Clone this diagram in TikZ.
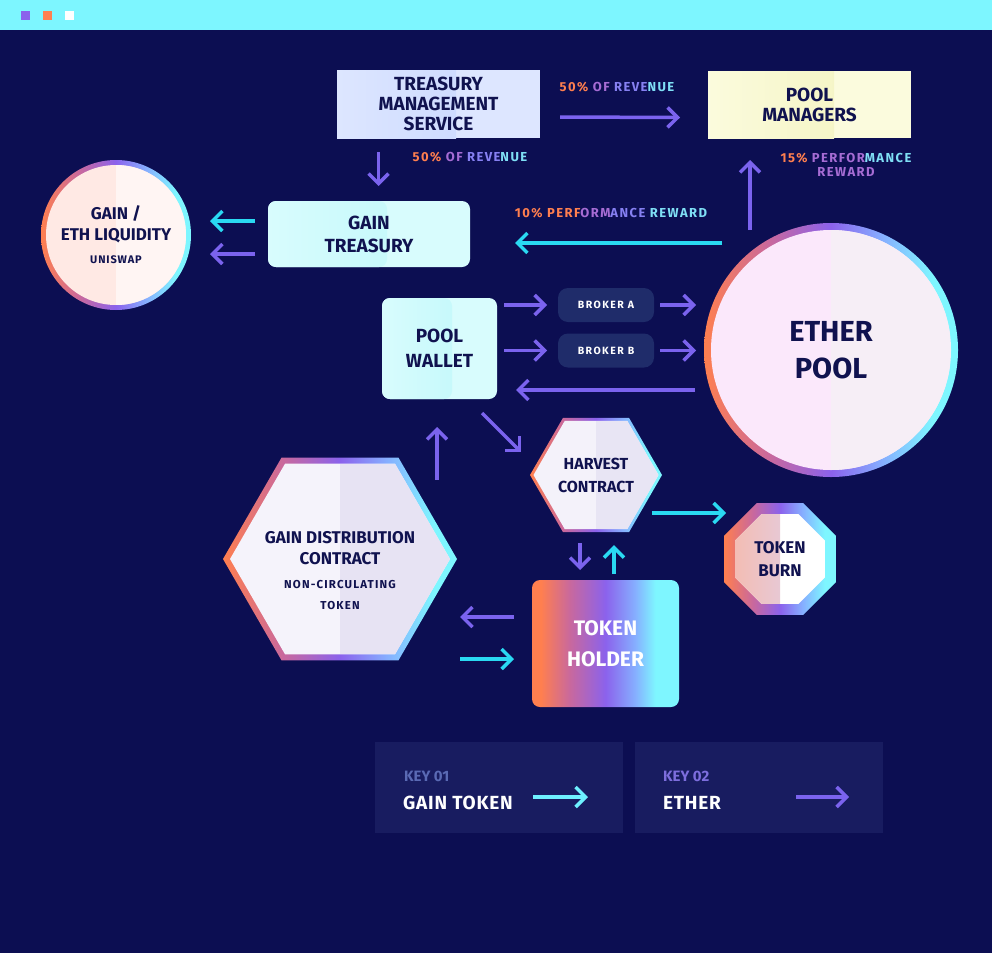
\documentclass[tikz,border=0pt]{standalone}
\usepackage{fontspec}
\setmainfont{Fira Sans}
\usetikzlibrary{arrows.meta,shapes.geometric}

\definecolor{navy}{HTML}{0C0E52}
\definecolor{topbar}{HTML}{7DF6FF}
\definecolor{boxtext}{HTML}{10124F}
\definecolor{ethpurple}{HTML}{7B63EE}
\definecolor{gaincyan}{HTML}{2AD9F2}
\definecolor{keycyan}{HTML}{6EF0FF}
\definecolor{ringorange}{HTML}{FF7F4F}
\definecolor{ringpink}{HTML}{C8689E}
\definecolor{ringpurple}{HTML}{8B62EC}
\definecolor{ringblue}{HTML}{86AEFF}
\definecolor{ringcyan}{HTML}{7EF6FF}
\definecolor{brokerbg}{HTML}{1F2C6A}
\definecolor{keybg}{HTML}{181C60}
\definecolor{tmsfill}{HTML}{DDE6FF}
\definecolor{tmsband}{HTML}{C4D4FF}
\definecolor{mgrfill}{HTML}{FBFBDD}
\definecolor{mgrband}{HTML}{F2F2BA}
\definecolor{cyanfill}{HTML}{D8FCFD}
\definecolor{cyanband}{HTML}{BCF7FA}
\definecolor{etherL}{HTML}{FBE8FB}
\definecolor{etherR}{HTML}{F6EEF6}
\definecolor{liqL}{HTML}{FFE9E4}
\definecolor{liqR}{HTML}{FFF5F3}
\definecolor{gdcL}{HTML}{F5F3FB}
\definecolor{gdcR}{HTML}{E7E3F3}
\definecolor{harvL}{HTML}{F4F2FA}
\definecolor{harvR}{HTML}{E8E5F4}
\definecolor{burnpink}{HTML}{F3BDB4}
\definecolor{burnlav}{HTML}{DDD3F3}
\definecolor{keyonegrey}{HTML}{5A6AB4}
\definecolor{keytwopurple}{HTML}{7D6EDD}
\definecolor{lblpurple}{HTML}{A66CD4}
\definecolor{lblblue}{HTML}{8680F2}
\definecolor{lblcyan}{HTML}{7FDFF5}

\pgfdeclarehorizontalshading{ringshade}{100bp}{color(0bp)=(ringorange); color(25bp)=(ringorange); color(38bp)=(ringpink); color(50bp)=(ringpurple); color(60bp)=(ringblue); color(70bp)=(ringcyan); color(100bp)=(ringcyan)}
\pgfdeclarehorizontalshading{holdershade}{100bp}{color(0bp)=(ringorange); color(28bp)=(ringorange); color(38bp)=(ringpink); color(50bp)=(ringpurple); color(60bp)=(ringblue); color(67bp)=(ringcyan); color(100bp)=(ringcyan)}

\begin{document}
\begin{tikzpicture}[x=1pt,y=-1pt,
box/.style={rectangle, inner sep=0pt, outer sep=0pt, align=center, text=boxtext, font=\fontsize{19}{20}\selectfont\bfseries},
band/.style n args={3}{fill=#1, path picture={\shade[left color=#1, right color=#2] (path picture bounding box.south west) rectangle ([xshift=-#3]path picture bounding box.north east);}},
split/.style 2 args={fill=#1, path picture={\fill[#2] (path picture bounding box.north) rectangle (path picture bounding box.south east);}},
ring/.style={inner sep=0pt, outer sep=0pt, shading=ringshade},
hexa/.style={regular polygon, regular polygon sides=6, inner sep=0pt, outer sep=0pt},
octa/.style={regular polygon, regular polygon sides=8, inner sep=0pt, outer sep=0pt},
broker/.style={box, rounded corners=10pt, fill=brokerbg, minimum width=96pt, minimum height=34pt, text=white, font=\fontsize{10.5}{12}\selectfont\bfseries\addfontfeature{LetterSpace=14}},
label/.style={align=center, font=\fontsize{13}{14}\selectfont\bfseries\addfontfeature{LetterSpace=11}},
etherarrow/.style={line width=3.5pt, draw=ethpurple, -{Straight Barb[length=10pt,width=20pt]}},
gainarrow/.style={line width=3.5pt, draw=gaincyan, -{Straight Barb[length=10pt,width=20pt]}}]

\useasboundingbox (0,0) rectangle (992,953);
\fill[navy] (0,0) rectangle (992,953);
\fill[topbar] (0,0) rectangle (992,30);
\fill[ringpurple] (21,11) rectangle (30,20);
\fill[ringorange] (43,11) rectangle (52,20);
\fill[white] (65,11) rectangle (74,20);

\node[box, minimum width=203pt, minimum height=68pt, band={tmsfill}{tmsband}{84pt}] (tms) at (438.5,104) {TREASURY\\MANAGEMENT\\SERVICE};
\node[box, minimum width=203pt, minimum height=67pt, band={mgrfill}{mgrband}{77pt}] (poolmgr) at (809.5,104.5) {POOL\\MANAGERS};
\node[box, rounded corners=8pt, minimum width=202pt, minimum height=66pt, band={cyanfill}{cyanband}{83pt}, font=\fontsize{19}{23}\selectfont\bfseries] (treasury) at (369,234) {GAIN\\TREASURY};
\node[box, rounded corners=8pt, minimum width=115pt, minimum height=101pt, band={cyanfill}{cyanband}{45pt}, font=\fontsize{19}{25}\selectfont\bfseries] (wallet) at (439.5,348.5) {POOL\\WALLET};
\node[broker] (brokerA) at (606,305) {BROKER A};
\node[broker] (brokerB) at (606,350.5) {BROKER B};

\node[circle, ring, minimum size=150pt] (liquidity) at (116,235) {};
\node[circle, inner sep=0pt, minimum size=140pt, split={liqL}{liqR}, align=center, text=boxtext, font=\fontsize{17}{21}\selectfont\bfseries] (liqtext) at (liquidity) {GAIN /\\ETH LIQUIDITY\\[2pt]{\fontsize{11}{12}\selectfont\addfontfeature{LetterSpace=8}UNISWAP}};

\node[circle, ring, minimum size=254pt] (etherpool) at (831,350) {};
\node[circle, inner sep=0pt, minimum size=240pt, split={etherL}{etherR}, align=center, text=boxtext, font=\fontsize{29}{37}\selectfont\bfseries] (ethertext) at (etherpool) {ETHER\\POOL};

\node[hexa, ring, minimum size=132pt] (harvest) at (596,475) {};
\node[hexa, minimum size=125pt, split={harvL}{harvR}, align=center, text=boxtext, font=\fontsize{16}{23}\selectfont\bfseries] (harvtext) at (harvest) {HARVEST\\CONTRACT};

\node[octa, ring, minimum size=121pt] (burn) at (780,559) {};
\node[octa, minimum size=97pt, fill=white, path picture={\shade[left color=burnpink, right color=burnlav] (path picture bounding box.south west) rectangle (path picture bounding box.north);}, align=center, text=boxtext, font=\fontsize{17}{23}\selectfont\bfseries] (burntext) at (burn) {TOKEN\\BURN};

\node[hexa, ring, minimum size=234pt] (distribution) at (340,559) {};
\node[hexa, minimum size=220pt, split={gdcL}{gdcR}] (distinner) at (distribution) {};
\node[align=center, text=boxtext, font=\fontsize{17}{21}\selectfont\bfseries] (distext) at (340,571) {GAIN DISTRIBUTION\\CONTRACT\\[3pt]{\fontsize{11.5}{14}\selectfont\addfontfeature{LetterSpace=10}NON-CIRCULATING}\\{\fontsize{11.5}{14}\selectfont\addfontfeature{LetterSpace=10}TOKEN}};

\node[box, rounded corners=8pt, minimum width=147pt, minimum height=127pt, shading=holdershade, text=white, font=\fontsize{21}{31}\selectfont\bfseries] (holder) at (605.5,643.5) {TOKEN\\HOLDER};

\node[label] (revtop) at (617,87) {\textcolor{ringorange}{50\%} \textcolor{lblpurple}{OF} \textcolor{lblblue}{REVE}\textcolor{lblcyan}{NUE}};
\node[label] (revdown) at (470,157) {\textcolor{ringorange}{50\%} \textcolor{lblpurple}{OF} \textcolor{lblblue}{REVE}\textcolor{lblcyan}{NUE}};
\node[label] (perften) at (611,213) {\textcolor{ringorange}{10\% PERF}\textcolor{lblpurple}{ORM}\textcolor{lblblue}{ANCE} \textcolor{lblcyan}{REWARD}};
\node[label] (perffifteen) at (846,165) {\textcolor{ringorange}{15\%} \textcolor{lblpurple}{PERFOR}\textcolor{lblcyan}{MANCE}\\\textcolor{lblpurple}{REWARD}};

\draw[etherarrow] ([xshift=20pt,yshift=-13pt]tms.east) -- ([xshift=-28pt,yshift=-13pt]poolmgr.west);
\draw[etherarrow] ([xshift=-60pt,yshift=-14pt]tms.south) -- ([xshift=-60pt,yshift=15pt]tms.south |- treasury.north);
\draw[gainarrow] ([xshift=-13pt,yshift=13pt]treasury.west) -- ([xshift=19pt,yshift=13pt]liquidity.east |- treasury.west);
\draw[etherarrow] ([xshift=-13pt,yshift=-20pt]treasury.west) -- ([xshift=19pt,yshift=-20pt]liquidity.east |- treasury.west);
\draw[etherarrow] ([xshift=-59.5pt,yshift=-7pt]poolmgr.south |- etherpool.north) -- ([xshift=-59.5pt,yshift=-22pt]poolmgr.south);
\draw[gainarrow] ([xshift=18pt,yshift=-9pt]etherpool.west |- treasury.east) -- ([xshift=45pt,yshift=-9pt]treasury.east);
\draw[etherarrow] ([xshift=7pt]wallet.east |- brokerA.west) -- ([xshift=-11pt]brokerA.west);
\draw[etherarrow] ([xshift=6pt]brokerA.east) -- ([xshift=-8pt]etherpool.west |- brokerA.east);
\draw[etherarrow] ([xshift=7pt]wallet.east |- brokerB.west) -- ([xshift=-11pt]brokerB.west);
\draw[etherarrow] ([xshift=6pt]brokerB.east) -- ([xshift=-8pt]etherpool.west |- brokerB.east);
\draw[etherarrow] ([xshift=-9pt,yshift=9pt]etherpool.west |- wallet.south) -- ([xshift=19pt,yshift=9pt]wallet.south east);
\draw[etherarrow] ([xshift=-15pt,yshift=-14pt]wallet.south east) -- ([xshift=-75pt,yshift=23pt]harvest.center);
\draw[etherarrow] ([xshift=-2.5pt,yshift=-22pt]wallet.south |- distribution.north) -- ([xshift=-2.5pt,yshift=-28pt]wallet.south);
\draw[gainarrow] ([xshift=56pt,yshift=-38pt]harvest.center) -- ([xshift=2pt,yshift=46pt]burn.west);
\draw[etherarrow] ([xshift=-25.5pt,yshift=-11pt]holder.north |- harvest.south) -- ([xshift=-25.5pt,yshift=10pt]holder.north);
\draw[gainarrow] ([xshift=8.5pt,yshift=6pt]holder.north) -- ([xshift=8.5pt,yshift=-13pt]holder.north |- harvest.south);
\draw[etherarrow] ([xshift=-18pt,yshift=26.5pt]holder.west) -- ([xshift=3pt,yshift=26.5pt]distribution.east |- holder.west);
\draw[gainarrow] ([xshift=3pt,yshift=-15.5pt]distribution.east |- holder.west) -- ([xshift=-18pt,yshift=-15.5pt]holder.west);

\node[rectangle, fill=keybg, minimum width=248pt, minimum height=91pt] (keyone) at (499,787.5) {};
\node[rectangle, fill=keybg, minimum width=248pt, minimum height=91pt] (keytwo) at (759,787.5) {};
\node[anchor=base west, inner sep=0pt, text=keyonegrey, font=\fontsize{15}{15}\selectfont\bfseries] (keyonenum) at (404,781) {KEY 01};
\node[anchor=base west, inner sep=0pt, text=white, font=\fontsize{19}{19}\selectfont\bfseries\addfontfeature{LetterSpace=4}] (keyonename) at (403,809) {GAIN TOKEN};
\node[anchor=base west, inner sep=0pt, text=keytwopurple, font=\fontsize{15}{15}\selectfont\bfseries] (keytwonum) at (663,781) {KEY 02};
\node[anchor=base west, inner sep=0pt, text=white, font=\fontsize{19}{19}\selectfont\bfseries\addfontfeature{LetterSpace=4}] (keytwoname) at (663,809) {ETHER};
\draw[gainarrow, draw=keycyan] ([xshift=34pt,yshift=-9.5pt]keyone.center) -- ([xshift=89pt,yshift=-9.5pt]keyone.center);
\draw[etherarrow] ([xshift=37pt,yshift=-9.5pt]keytwo.center) -- ([xshift=90pt,yshift=-9.5pt]keytwo.center);
\end{tikzpicture}
\end{document}
